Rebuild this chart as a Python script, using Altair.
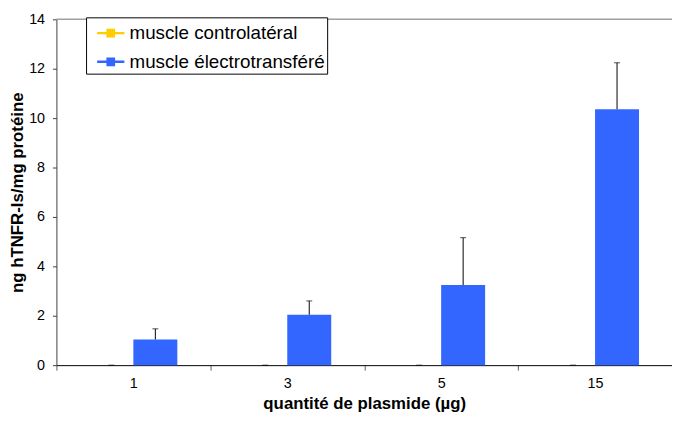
import altair as alt
import pandas as pd

categories = ["1", "3", "5", "15"]
series = ["muscle controlatéral", "muscle électrotransféré"]
values_contro = [0.0, 0.0, 0.0, 0.0]
errors_contro = [0.0, 0.0, 0.0, 0.0]
values_electro = [1.04, 2.04, 3.24, 10.36]
errors_electro = [0.43, 0.56, 1.92, 1.88]
colors = ["#FFCC00", "#3366FF"]

rows = []
for c, v, e in zip(categories, values_contro, errors_contro):
    rows.append({"cat": c, "serie": series[0], "value": v, "upper": v + e})
for c, v, e in zip(categories, values_electro, errors_electro):
    rows.append({"cat": c, "serie": series[1], "value": v, "upper": v + e})
df = pd.DataFrame(rows)

FONT = "Liberation Sans"

x_scale = alt.Scale(paddingInner=0, paddingOuter=0)
x_enc = alt.X(
    "cat:N",
    sort=categories,
    scale=x_scale,
    axis=alt.Axis(
        title="quantité de plasmide (µg)",
        labelAngle=0,
        tickBand="extent",
        tickSize=5,
        tickColor="#606060",
        domainColor="#000000",
        labelFontSize=14.5,
        labelPadding=7,
        titleFontSize=17,
        titleFontWeight="bold",
        titlePadding=5,
        labelColor="#000000",
        titleColor="#000000",
    ),
)
xoff = alt.XOffset("serie:N", sort=series, scale=alt.Scale(paddingInner=0, paddingOuter=0.75))
y_scale = alt.Scale(domain=[0, 14], nice=False)

bars = alt.Chart(df).mark_bar().encode(
    x=x_enc,
    xOffset=xoff,
    y=alt.Y(
        "value:Q",
        scale=y_scale,
        axis=alt.Axis(
            title="ng hTNFR-Is/mg protéine",
            values=[0, 2, 4, 6, 8, 10, 12, 14],
            grid=False,
            tickSize=4,
            tickColor="#404040",
            domainColor="#404040",
            labelFontSize=14.5,
            labelPadding=8,
            titleFontSize=17,
            titleFontWeight="bold",
            titlePadding=2,
            labelColor="#000000",
            titleColor="#000000",
        ),
    ),
    color=alt.Color(
        "serie:N",
        sort=series,
        scale=alt.Scale(domain=series, range=colors),
        legend=alt.Legend(
            title=None,
            orient="none",
            legendX=30,
            legendY=-2,
            strokeColor="#000000",
            fillColor="#FFFFFF",
            padding=2,
            labelFontSize=19,
            labelFont=FONT,
            labelColor="#000000",
            labelLimit=400,
            labelOffset=5,
            labelExpr="datum.label + '\u00a0\u00a0'",
            rowPadding=5,
            symbolOffset=9,
            symbolType="M-1,-0.09H1V0.09H-1Z M-0.32,-0.32H0.32V0.32H-0.32Z",
            symbolSize=756,
            symbolStrokeWidth=0,
            cornerRadius=0,
        ),
    ),
)

err_rule = alt.Chart(df).mark_rule(color="#000000", strokeWidth=1).encode(
    x=alt.X("cat:N", sort=categories, scale=x_scale),
    xOffset=xoff,
    y=alt.Y("value:Q", scale=y_scale),
    y2="upper:Q",
)
err_cap = alt.Chart(df).mark_tick(color="#000000", thickness=1, size=6, orient="horizontal").encode(
    x=alt.X("cat:N", sort=categories, scale=x_scale),
    xOffset=xoff,
    y=alt.Y("upper:Q", scale=y_scale),
)

top_line = alt.Chart(pd.DataFrame({"top": [14]})).mark_rule(color="#A0A0A0", strokeWidth=1.5).encode(
    y=alt.Y("top:Q", scale=y_scale)
)

chart = (
    alt.layer(top_line, bars, err_rule, err_cap)
    .properties(
        width=623,
        height=350,
        autosize=alt.AutoSizeParams(type="none"),
        padding={"left": 49, "top": 9, "right": 0, "bottom": 48},
    )
    .configure(font=FONT)
    .configure_view(stroke=None)
)

chart.save("out.html", embed_options={"renderer": "svg", "actions": False})
